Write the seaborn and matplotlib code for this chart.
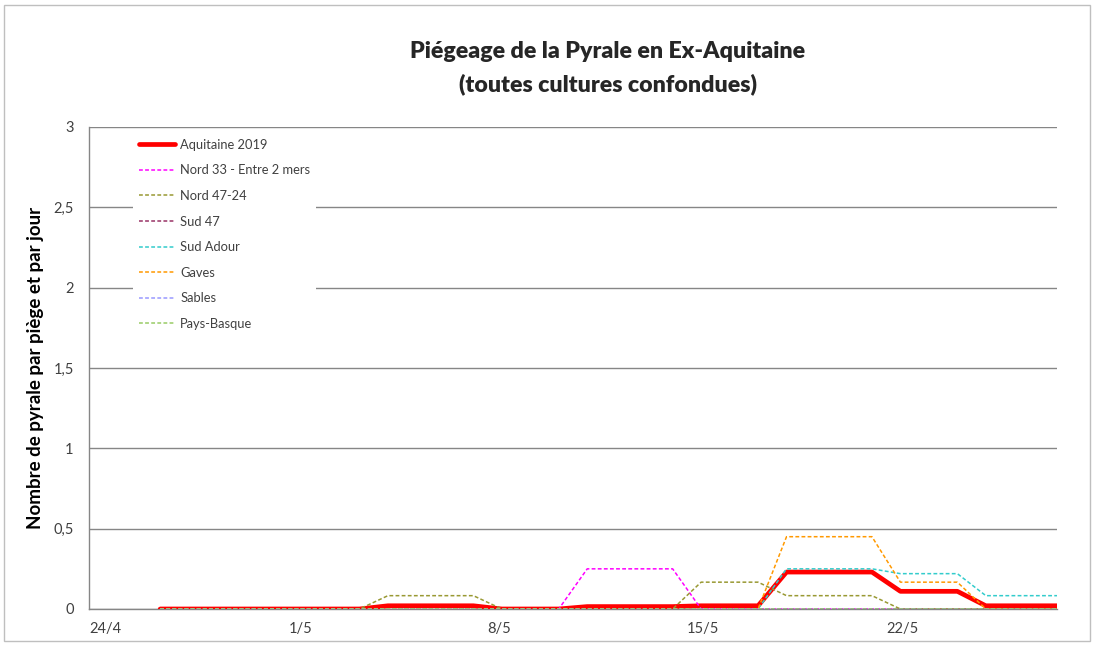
import pandas as pd
import seaborn as sns
import matplotlib.pyplot as plt
from matplotlib.patches import Rectangle

# daily values (26/4 -> 28/5), one reading per day
days = pd.date_range('2019-04-26', '2019-05-28', freq='D')

aquitaine = [0, 0, 0, 0, 0, 0, 0, 0, 0.02, 0.02, 0.02, 0.02, 0, 0, 0,
             0.015, 0.015, 0.015, 0.015, 0.02, 0.02, 0.02,
             0.23, 0.23, 0.23, 0.23, 0.11, 0.11, 0.11, 0.02, 0.02, 0.02, 0.02]
nord33 = [0, 0, 0, 0, 0, 0, 0, 0, 0, 0, 0, 0, 0, 0, 0,
          0.25, 0.25, 0.25, 0.25, 0, 0, 0,
          0, 0, 0, 0, 0, 0, 0, 0, 0, 0, 0]
nord4724 = [0, 0, 0, 0, 0, 0, 0, 0, 0.083, 0.083, 0.083, 0.083, 0, 0, 0,
            0, 0, 0, 0, 0.167, 0.167, 0.167,
            0.083, 0.083, 0.083, 0.083, 0, 0, 0, 0, 0, 0, 0]
sud47 = [0] * 33
sud_adour = [0, 0, 0, 0, 0, 0, 0, 0, 0, 0, 0, 0, 0, 0, 0,
             0, 0, 0, 0, 0, 0, 0,
             0.25, 0.25, 0.25, 0.25, 0.22, 0.22, 0.22, 0.083, 0.083, 0.083, 0.083]
gaves = [0, 0, 0, 0, 0, 0, 0, 0, 0, 0, 0, 0, 0, 0, 0,
         0, 0, 0, 0, 0, 0, 0,
         0.45, 0.45, 0.45, 0.45, 0.167, 0.167, 0.167, 0, 0, 0, 0]
sables = [0] * 33
pays_basque = [0] * 33

series_names = ['Aquitaine 2019', 'Nord 33 - Entre 2 mers', 'Nord 47-24', 'Sud 47',
                'Sud Adour', 'Gaves', 'Sables', 'Pays-Basque']
series_values = [aquitaine, nord33, nord4724, sud47, sud_adour, gaves, sables, pays_basque]
colors = ['#FF0000', '#FF00FF', '#999933', '#993366', '#33CCCC', '#FF9900', '#9999FF', '#99CC66']

tick_dates = ['2019-04-24', '2019-05-01', '2019-05-08', '2019-05-15', '2019-05-22']
tick_labels = ['24/4', '1/5', '8/5', '15/5', '22/5']
y_ticks = [0, 0.5, 1, 1.5, 2, 2.5, 3]
y_labels = ['0', '0,5', '1', '1,5', '2', '2,5', '3']

frames = []
for name, vals in zip(series_names, series_values):
    frames.append(pd.DataFrame({'date': days + pd.Timedelta(hours=12), 'value': vals, 'serie': name}))
df = pd.concat(frames, ignore_index=True)

sns.set_style('white')
plt.rcParams['font.family'] = ['Lato', 'DejaVu Sans']

fig = plt.figure(figsize=(10.94, 6.46), dpi=100)
ax = fig.add_axes([89 / 1094, 1 - 609 / 646, 968 / 1094, 482 / 646])

for i, (name, col) in enumerate(zip(series_names, colors)):
    sub = df[df['serie'] == name]
    if i == 0:
        sns.lineplot(data=sub, x='date', y='value', color=col, lw=3.4, label=name,
                     estimator=None, ax=ax, zorder=3)
    else:
        sns.lineplot(data=sub, x='date', y='value', color=col, lw=1.1, label=name,
                     linestyle=(0, (2.5, 1.5)), estimator=None, ax=ax, zorder=3 + i)

ax.set_xlim(pd.Timestamp('2019-04-24'), pd.Timestamp('2019-05-28'))
ax.set_ylim(0, 3)
ax.set_xticks(pd.to_datetime(tick_dates))
ax.set_xticklabels(tick_labels, ha='left')
ax.set_yticks(y_ticks)
ax.set_yticklabels(y_labels)
ax.set_xlabel('')
ax.set_ylabel('Nombre de pyrale par piège et par jour', fontsize=13.5, fontweight='bold',
              color='#000000')
ax.yaxis.set_label_coords(-0.047, 0.5)

ax.yaxis.grid(True, color='#868686', lw=1)
ax.xaxis.grid(False)
for s in ['top', 'right']:
    ax.spines[s].set_visible(False)
for s in ['left', 'bottom']:
    ax.spines[s].set_color('#868686')
    ax.spines[s].set_linewidth(1)
ax.tick_params(axis='both', direction='out', length=5, color='#868686', width=1,
               labelsize=10.5, labelcolor='#404040')
ax.tick_params(axis='y', pad=6)
ax.tick_params(axis='x', pad=4)

leg = ax.legend(loc='upper left', bbox_to_anchor=((133 - 89) / 968, (609 - 133) / 482),
                frameon=True, facecolor='white', edgecolor='none', framealpha=1,
                fontsize=9.3, handlelength=2.8, handletextpad=0.4, labelspacing=1.05,
                borderpad=0.45, borderaxespad=0)
for t in leg.get_texts():
    t.set_color('#404040')
leg.set_zorder(20)

fig.text(608 / 1094, 1 - 52 / 646, 'Piégeage de la Pyrale en Ex-Aquitaine',
         ha='center', va='center', fontsize=16.7, fontweight='heavy')
fig.text(608 / 1094, 1 - 84 / 646, '(toutes cultures confondues)',
         ha='center', va='center', fontsize=16.7, fontweight='heavy')

fig.patches.append(Rectangle((4 / 1094, 1 - 641 / 646), 1086 / 1094, 636 / 646,
                             transform=fig.transFigure, fill=False, edgecolor='#BFBFBF', lw=1))

fig.savefig('out.png', dpi=100)
